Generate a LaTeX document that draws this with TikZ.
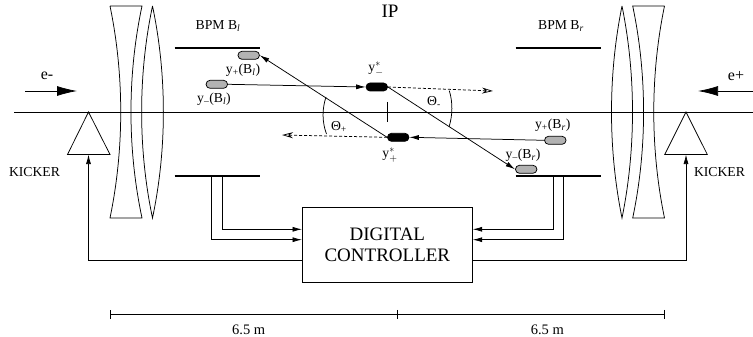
\documentclass[tikz,border=0pt]{standalone}
\usepackage{fontspec}
\setmainfont{Liberation Serif}
\usetikzlibrary{arrows.meta,shapes.misc}

\tikzset{
    bunch/.style={rounded rectangle,draw,minimum width=21.5,minimum height=8,inner sep=0},
    pickup/.style={bunch,fill=black!30},
    core/.style={bunch,fill=black},
    lbl/.style={inner sep=0,font=\fontsize{13.7}{15}\selectfont},
    bar/.style={line width=1.9},
}

\begin{document}
\begin{tikzpicture}[x=1pt,y=-1pt,line width=0.75,>={Latex[length=9.5,width=5]}]
    \useasboundingbox (0,0) rectangle (753,337);

    % beam line and incoming beams
    \coordinate (bl) at (14,112);
    \coordinate (br) at (753,112);
    \draw (bl)--(br);
    \coordinate (em0) at (25,91);
    \coordinate (em1) at (77,91);
    \coordinate (ep0) at (753,91);
    \coordinate (ep1) at (698,91);
    \draw[-{Latex[length=20,width=10]}] (em0)--(em1);
    \draw[-{Latex[length=20,width=10]}] (ep0)--(ep1);
    \node[lbl,font=\fontsize{16}{18}\selectfont] at (47,76)(em){e-};
    \node[lbl,font=\fontsize{16}{18}\selectfont] at (736,76)(ep){e+};
    \node[lbl,font=\fontsize{19}{21}\selectfont] at (390,11)(ip){IP};

    % quadrupoles
    \draw (110,6)--(142,6) .. controls (127.3,75) and (127.3,149) .. (142,218)
        --(110,218) .. controls (124.3,149) and (124.3,75) .. (110,6);
    \draw (152.5,6) .. controls (167,75) and (167,149) .. (152.5,218)
        .. controls (138,149) and (138,75) .. (152.5,6);
    \draw (664.5,6)--(632.7,6) .. controls (647.2,75) and (647.2,149) .. (632.7,218)
        --(664.5,218) .. controls (650.2,149) and (650.2,75) .. (664.5,6);
    \draw (622,6) .. controls (636,75) and (636,149) .. (622,218)
        .. controls (608,149) and (608,75) .. (622,6);

    % kickers
    \coordinate (kl) at (88.5,154.5);
    \coordinate (kr) at (686,154.5);
    \draw (88.5,112)--(110,154.5)--(67.5,154.5)--cycle;
    \draw (686,112)--(707.3,154.5)--(664.7,154.5)--cycle;
    \node[lbl] at (34.5,172)(kickl){KICKER};
    \node[lbl] at (719.5,172)(kickr){KICKER};

    % pickups
    \draw[bar] (174.5,48.3)--(259.5,48.3);
    \draw[bar] (174.5,176)--(259.5,176);
    \draw[bar] (515.7,48.3)--(600.5,48.3);
    \draw[bar] (515.7,176)--(600.5,176);
    \node[lbl] at (218,26)(bpml){BPM B$_{\mathit{l}}$};
    \node[lbl] at (561,26)(bpmr){BPM B$_{\mathit{r}}$};

    \node[pickup] at (248.7,55.3)(ypl){};
    \node[pickup] at (216.8,84.3)(yml){};
    \node[pickup] at (555.3,140.3)(ypr){};
    \node[pickup] at (526.2,169.3)(ymr){};
    \node[core] at (376.8,87)(ym){};
    \node[core] at (398.2,137.3)(yp){};

    \node[lbl] at (243,70)(typl){y\textsubscript{+}(B\textsubscript{\textit{l}})};
    \node[lbl] at (214,99)(tyml){y\textsubscript{--}(B\textsubscript{\textit{l}})};
    \node[lbl] at (552.7,125)(typr){y\textsubscript{+}(B\textsubscript{\textit{r}})};
    \node[lbl] at (523,155)(tymr){y\textsubscript{--}(B\textsubscript{\textit{r}})};
    \node[lbl] at (376,69)(tym){$\mathrm{y}_{-}^{*}$};
    \node[lbl] at (390,155)(typ){$\mathrm{y}_{+}^{*}$};

    \coordinate (outr) at (493,91);
    \coordinate (outl) at (282,135);

    \path[->]
    (yml.east)edge(ym.west)
    (yp.west)edge(ypl.east)
    (ypr.west)edge(yp.east)
    (ym.east)edge(ymr.west)
    ;
    \path[-{Stealth[open,length=11,width=6]},densely dashed]
    (ym.east)edge(outr)
    (yp.west)edge(outl)
    ;

    % crossing angle
    \draw (387.3,102)--(387.3,122.3);
    \draw (326,97) .. controls (322,109) and (322,122) .. (326.5,134);
    \draw (449.3,90.7) .. controls (452.8,102) and (452.8,115) .. (449,127);
    \node[lbl] at (339,127)(thp){Θ\textsubscript{+}};
    \node[lbl] at (434,102)(thm){Θ\textsubscript{-}};

    % controller
    \node[draw,align=center,minimum width=170.7,minimum height=74.6,inner sep=0,
        font=\fontsize{19}{21}\selectfont] at (387.35,245)(ctrl){DIGITAL\\CONTROLLER};
    \coordinate (a1) at (222.3,176);
    \coordinate (a2) at (211.7,176);
    \coordinate (a3) at (553,176);
    \coordinate (a4) at (563.7,176);
    \coordinate (c1) at (302,229.3);
    \coordinate (c2) at (302,239.7);
    \coordinate (c3) at (472.7,229.3);
    \coordinate (c4) at (472.7,239.7);
    \coordinate (c5) at (302,260.7);
    \coordinate (c6) at (472.7,260.7);
    \draw[->] (a1) |- (c1);
    \draw[->] (a2) |- (c2);
    \draw[->] (a3) |- (c3);
    \draw[->] (a4) |- (c4);
    \draw[->] (c5) -| (kl);
    \draw[->] (c6) -| (kr);

    % scale
    \coordinate (d0) at (110,314.3);
    \coordinate (d1) at (398,314.3);
    \coordinate (d2) at (664.7,314.3);
    \draw[{Bar[width=9]}-{Bar[width=9]}] (d0)--(d1);
    \draw[-{Bar[width=9]}] (d1)--(d2);
    \node[lbl,font=\fontsize{14.5}{16}\selectfont] at (248.7,329.5)(dl){6.5 m};
    \node[lbl,font=\fontsize{14.5}{16}\selectfont] at (547.3,329.5)(dr){6.5 m};
\end{tikzpicture}
\end{document}
